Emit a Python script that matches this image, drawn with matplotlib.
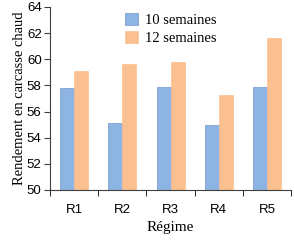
import matplotlib
matplotlib.use("Agg")
import matplotlib.pyplot as plt
import numpy as np

categories = ["R1", "R2", "R3", "R4", "R5"]
s10 = [57.8, 55.1, 57.9, 55.0, 57.9]
s12 = [59.1, 59.6, 59.8, 57.3, 61.6]
series_names = ["10 semaines", "12 semaines"]

fig = plt.figure(figsize=(2.94, 2.41), dpi=100)
ax = fig.add_axes([0.170, 0.212, 0.82, 0.759])

x = np.arange(len(categories))
w = 0.29
ax.bar(x - w/2, np.array(s10) - 50, w, bottom=50, color="#8EB4E3", edgecolor="#6F93C8", linewidth=0.5, label=series_names[0])
ax.bar(x + w/2, np.array(s12) - 50, w, bottom=50, color="#FAC090", edgecolor="#FAC090", linewidth=0.5, label=series_names[1])

ax.set_ylim(50, 64)
ax.set_xlim(-0.5, 4.5)
ax.set_yticks(np.arange(50, 65, 2))
ax.set_xticks(x)
ax.set_xticklabels(categories)
ax.set_xticks(np.arange(-0.5, 5, 1), minor=True)
ax.tick_params(axis="x", which="major", length=0, pad=10)
ax.tick_params(axis="x", which="minor", length=4, direction="out")
ax.tick_params(axis="y", length=4, direction="out", pad=2)
for lab in ax.get_xticklabels() + ax.get_yticklabels():
    lab.set_fontfamily("Liberation Sans")
    lab.set_fontsize(9.5)
for s in ["top", "right"]:
    ax.spines[s].set_visible(False)
for s in ["left", "bottom"]:
    ax.spines[s].set_color("#404040")
    ax.spines[s].set_linewidth(0.8)
ax.tick_params(colors="#404040", labelcolor="black")

ax.set_ylabel("Rendement en carcasse chaud", fontfamily="Liberation Serif", fontsize=10.5, labelpad=1)
ax.set_xlabel("Régime", fontfamily="Liberation Serif", fontsize=11, labelpad=4)

leg = ax.legend(loc="upper center", bbox_to_anchor=(0.5, 1.04), frameon=False,
                prop={"family": "Liberation Serif", "size": 10.5},
                handlelength=0.9, handleheight=0.9, handletextpad=0.5, labelspacing=0.3)

fig.savefig("out.png", dpi=100)
